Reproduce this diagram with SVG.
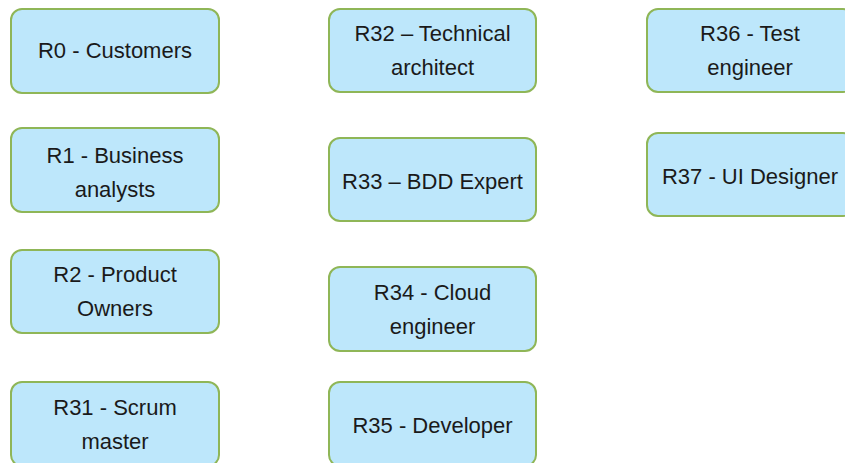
<svg xmlns="http://www.w3.org/2000/svg" width="845" height="463" viewBox="0 0 845 463">
<style>
.box{fill:#bde7fb;stroke:#8fb657;stroke-width:2}
.t{font-family:"Liberation Sans",Arial,sans-serif;font-size:22px;fill:#1a1a1a;text-anchor:middle}
</style>
<rect width="845" height="463" fill="#ffffff"/>
<g id="connectors"></g>
<g id="R0"><rect class="box" x="11" y="9" width="208" height="84" rx="11"/><text class="t" x="115" y="58">R0 - Customers</text></g>
<g id="R1"><rect class="box" x="11" y="128" width="208" height="84" rx="11"/><text class="t" x="115" y="162.5">R1 - Business</text><text class="t" x="115" y="196.5">analysts</text></g>
<g id="R2"><rect class="box" x="11" y="250" width="208" height="83" rx="11"/><text class="t" x="115" y="281.5">R2 - Product</text><text class="t" x="115" y="315.5">Owners</text></g>
<g id="R31"><rect class="box" x="11" y="382" width="208" height="84" rx="11"/><text class="t" x="115" y="414.5">R31 - Scrum</text><text class="t" x="115" y="448.5">master</text></g>
<g id="R32"><rect class="box" x="329" y="9" width="207" height="83" rx="11"/><text class="t" x="432.5" y="41">R32 – Technical</text><text class="t" x="432.5" y="75">architect</text></g>
<g id="R33"><rect class="box" x="329" y="138" width="207" height="83" rx="11"/><text class="t" x="432.5" y="188.5">R33 – BDD Expert</text></g>
<g id="R34"><rect class="box" x="329" y="267" width="207" height="84" rx="11"/><text class="t" x="432.5" y="299.5">R34 - Cloud</text><text class="t" x="432.5" y="333.5">engineer</text></g>
<g id="R35"><rect class="box" x="329" y="382" width="207" height="84" rx="11"/><text class="t" x="432.5" y="432.5">R35 - Developer</text></g>
<g id="R36"><rect class="box" x="647" y="9" width="207" height="83" rx="11"/><text class="t" x="750" y="41">R36 - Test</text><text class="t" x="750" y="75">engineer</text></g>
<g id="R37"><rect class="box" x="647" y="133" width="207" height="83" rx="11"/><text class="t" x="750" y="183.5">R37 - UI Designer</text></g>
</svg>
